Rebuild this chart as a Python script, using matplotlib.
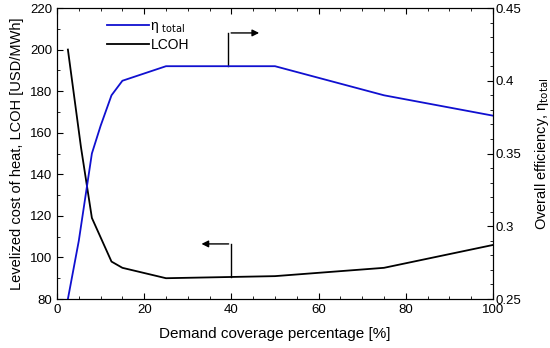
import matplotlib
matplotlib.use("Agg")
import matplotlib.pyplot as plt
from matplotlib.ticker import MultipleLocator

plt.rcParams['font.family'] = ['Liberation Sans', 'DejaVu Sans']

# data
coverage = [2.5, 5.5, 8, 12.5, 15, 25, 50, 75, 100]
lcoh = [200, 153, 119, 98, 95, 90, 91, 95, 106]
eff_x = [2.5, 5, 8, 10, 12.5, 15, 25, 50, 75, 100]
eff = [0.25, 0.29, 0.35, 0.369, 0.39, 0.40, 0.41, 0.41, 0.39, 0.376]

fig = plt.figure(figsize=(5.5, 3.48), dpi=100)
ax = fig.add_axes([57/550, 1 - 299/348, (493-57)/550, (299-8)/348])
ax2 = ax.twinx()

l1, = ax2.plot(eff_x, eff, color='#1010d0', lw=1.3, label='η $_{\\mathrm{total}}$')
l2, = ax.plot(coverage, lcoh, color='black', lw=1.3, label='LCOH')

ax.set_xlim(0, 100)
ax.set_ylim(80, 220)
ax2.set_ylim(0.25, 0.45)

ax.xaxis.set_major_locator(MultipleLocator(20))
ax.xaxis.set_minor_locator(MultipleLocator(5))
ax.yaxis.set_major_locator(MultipleLocator(20))
ax.yaxis.set_minor_locator(MultipleLocator(10))
ax2.set_yticks([0.25, 0.3, 0.35, 0.4, 0.45], ['0.25', '0.3', '0.35', '0.4', '0.45'])
ax2.yaxis.set_minor_locator(MultipleLocator(0.01))

ax.tick_params(which='both', direction='in', top=True, labelsize=9.5)
ax.tick_params(which='major', length=4)
ax.tick_params(which='minor', length=2)
ax2.tick_params(which='both', direction='in', labelsize=9.5, pad=2)
ax2.tick_params(which='major', length=4)
ax2.tick_params(which='minor', length=2)

ax.set_xlabel('Demand coverage percentage [%]', fontsize=11, labelpad=8)
ax.set_ylabel('Levelized cost of heat, LCOH [USD/MWh]', fontsize=10.5, labelpad=4)
ax2.set_ylabel('Overall efficiency, η$_{\\mathrm{total}}$', fontsize=10.5, labelpad=8)

# arrows pointing at the axes
ax.plot([40, 40], [90.5, 106.5], color='black', lw=1)
ax.annotate('', xy=(32.5, 106.5), xytext=(40, 106.5),
            arrowprops=dict(arrowstyle='-|>', color='black', lw=1, mutation_scale=10))
ax.plot([39.3, 39.3], [192, 208], color='black', lw=1)
ax.annotate('', xy=(47, 208), xytext=(39.3, 208),
            arrowprops=dict(arrowstyle='-|>', color='black', lw=1, mutation_scale=10))

ax.legend([l1, l2], [l1.get_label(), l2.get_label()], loc='upper left',
          bbox_to_anchor=(0.09, 1.0), frameon=False, fontsize=10,
          handlelength=3, handletextpad=0.1, labelspacing=0.2, borderpad=0.3)

fig.savefig('out.png', dpi=100)
